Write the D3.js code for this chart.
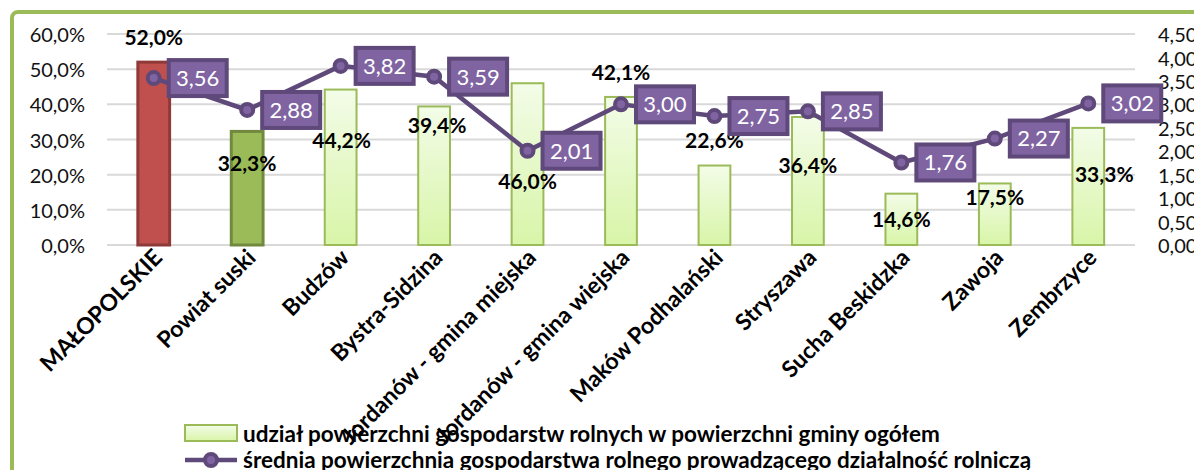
<!DOCTYPE html>
<html>
<head>
<meta charset="utf-8">
<script src="https://cdn.jsdelivr.net/npm/d3@7"></script>
<style>
  body { margin: 0; background: #fff; }
  text { font-family: Lato, "Liberation Sans", sans-serif; }
</style>
</head>
<body>
<div id="chart"></div>
<script>
var width = 1194, height = 470;

// data
var categories = ["MAŁOPOLSKIE", "Powiat suski", "Budzów", "Bystra-Sidzina",
  "Jordanów - gmina miejska", "Jordanów  - gmina wiejska", "Maków Podhalański",
  "Stryszawa", "Sucha Beskidzka", "Zawoja", "Zembrzyce"];
var share = [52.0, 32.3, 44.2, 39.4, 46.0, 42.1, 22.6, 36.4, 14.6, 17.5, 33.3];
var avgArea = [3.56, 2.88, 3.82, 3.59, 2.01, 3.00, 2.75, 2.85, 1.76, 2.27, 3.02];
var leftTicks = [0, 10, 20, 30, 40, 50, 60];
var rightTicks = [0, 0.5, 1, 1.5, 2, 2.5, 3, 3.5, 4, 4.5];
var legendLabels = ["udział powierzchni gospodarstw rolnych w powierzchni gminy ogółem",
  "średnia powierzchnia gospodarstwa rolnego prowadzącego działalność rolniczą"];

// where excel left the bar labels (in % units of left axis)
var barLabelLevel = [59.1, 23.3, 29.6, 34.1, 18.2, 49.2, 29.6, 22.5, 7.4, 13.5, 20.2];
var barLabelDx = [0, 0, 1, 3, 0, 0, 0, 0, 0, 0, 16];

var plot = { left: 107, right: 1135, top: 34, bottom: 245 };

var svg = d3.select("#chart")
  .append("svg")
  .attr("width", width)
  .attr("height", height);

var defs = svg.append("defs");
var grad = defs.append("linearGradient")
  .attr("id", "lightGreen")
  .attr("x1", 0).attr("y1", 0).attr("x2", 0).attr("y2", 1);
grad.append("stop").attr("offset", "0%").attr("stop-color", "#f3fce8");
grad.append("stop").attr("offset", "100%").attr("stop-color", "#d8f5a8");

// outer frame
svg.append("rect")
  .attr("x", 12).attr("y", 12)
  .attr("width", 1300).attr("height", 600)
  .attr("rx", 6)
  .attr("fill", "#fff")
  .attr("stroke", "#9bbb59")
  .attr("stroke-width", 4);

var x = d3.scaleBand()
  .domain(categories)
  .range([plot.left, plot.right])
  .paddingInner(0.66)
  .paddingOuter(0.33);

var xc = function(d) { return x(d) + x.bandwidth() / 2; };

var y = d3.scaleLinear().domain([0, 60]).range([plot.bottom, plot.top]);
var y2 = d3.scaleLinear().domain([0, 4.5]).range([plot.bottom, plot.top]);

var comma = function(f) { return function(v) { return d3.format(f)(v).replace(".", ","); }; };

// gridlines
svg.append("g")
  .selectAll("line")
  .data(leftTicks)
  .enter().append("line")
  .attr("x1", plot.left).attr("x2", plot.right)
  .attr("y1", function(d) { return y(d); })
  .attr("y2", function(d) { return y(d); })
  .attr("stroke", "#d9d9d9")
  .attr("stroke-width", 2);

// left axis
var leftAxis = svg.append("g")
  .attr("transform", "translate(" + 85 + ",0)")
  .call(d3.axisLeft(y).tickValues(leftTicks).tickSize(0).tickPadding(0)
    .tickFormat(function(d) { return comma(".1f")(d) + "%"; }));
leftAxis.select(".domain").remove();
leftAxis.selectAll("text")
  .attr("font-size", 20)
  .attr("fill", "#111")
  .attr("dy", "0.38em")
  .style("font-family", "Lato");

// right axis (cut by the picture edge, like the original)
var rightAxis = svg.append("g")
  .attr("transform", "translate(" + 1158 + ",0)")
  .call(d3.axisRight(y2).tickValues(rightTicks).tickSize(0).tickPadding(0)
    .tickFormat(comma(".2f")));
rightAxis.select(".domain").remove();
rightAxis.selectAll("text")
  .attr("font-size", 20)
  .attr("fill", "#111")
  .attr("dy", "0.38em")
  .style("font-family", "Lato");

// bars
var fills = function(i) {
  if (i === 0) return "#c0504d";
  if (i === 1) return "#9bbb59";
  return "url(#lightGreen)";
};
var strokes = function(i) {
  if (i === 0) return "#8e3a38";
  if (i === 1) return "#71893f";
  return "#9bbb59";
};

svg.append("g")
  .selectAll("rect")
  .data(share)
  .enter().append("rect")
  .attr("x", function(d, i) { return x(categories[i]); })
  .attr("y", function(d) { return y(d); })
  .attr("width", x.bandwidth())
  .attr("height", function(d) { return y(0) - y(d); })
  .attr("fill", function(d, i) { return fills(i); })
  .attr("stroke", function(d, i) { return strokes(i); })
  .attr("stroke-width", function(d, i) { return i < 2 ? 3 : 2; });

// bar labels
svg.append("g")
  .selectAll("text")
  .data(share)
  .enter().append("text")
  .attr("x", function(d, i) { return xc(categories[i]) + barLabelDx[i]; })
  .attr("y", function(d, i) { return y(barLabelLevel[i]); })
  .attr("dy", "0.36em")
  .attr("text-anchor", "middle")
  .attr("font-size", 21)
  .attr("font-weight", "bold")
  .attr("fill", "#000")
  .text(function(d) { return comma(".1f")(d) + "%"; });

// line
var line = d3.line()
  .x(function(d, i) { return xc(categories[i]); })
  .y(function(d) { return y2(d); });

svg.append("path")
  .datum(avgArea)
  .attr("d", line)
  .attr("fill", "none")
  .attr("stroke", "#5f497a")
  .attr("stroke-width", 4.5);

svg.append("g")
  .selectAll("circle")
  .data(avgArea)
  .enter().append("circle")
  .attr("cx", function(d, i) { return xc(categories[i]); })
  .attr("cy", function(d) { return y2(d); })
  .attr("r", 6)
  .attr("fill", "#8064a2")
  .attr("stroke", "#5f497a")
  .attr("stroke-width", 4);

// line value boxes
var boxes = svg.append("g")
  .selectAll("g")
  .data(avgArea)
  .enter().append("g")
  .attr("transform", function(d, i) {
    return "translate(" + (xc(categories[i]) + 13) + "," + y2(d) + ")";
  });

boxes.append("rect")
  .attr("x", 2).attr("y", -18)
  .attr("width", 58).attr("height", 36)
  .attr("fill", "#8064a2")
  .attr("stroke", "#5f497a")
  .attr("stroke-width", 4);

boxes.append("text")
  .attr("x", 31)
  .attr("dy", "0.36em")
  .attr("text-anchor", "middle")
  .attr("font-size", 22)
  .attr("fill", "#fff")
  .text(function(d) { return comma(".2f")(d); });

// category labels
svg.append("g")
  .selectAll("text")
  .data(categories)
  .enter().append("text")
  .attr("transform", function(d) {
    return "translate(" + (xc(d) + 10) + "," + 259 + ") rotate(-45)";
  })
  .attr("text-anchor", "end")
  .attr("font-size", 23)
  .attr("font-weight", "bold")
  .attr("fill", "#000")
  .text(function(d) { return d; });

// legend
var legend = svg.append("g");
legend.append("rect")
  .attr("x", 185).attr("y", 425)
  .attr("width", 52).attr("height", 16)
  .attr("fill", "url(#lightGreen)")
  .attr("stroke", "#9bbb59")
  .attr("stroke-width", 2);
legend.append("line")
  .attr("x1", 185).attr("x2", 237)
  .attr("y1", 460).attr("y2", 460)
  .attr("stroke", "#5f497a")
  .attr("stroke-width", 4.5);
legend.append("circle")
  .attr("cx", 211).attr("cy", 460)
  .attr("r", 6)
  .attr("fill", "#8064a2")
  .attr("stroke", "#5f497a")
  .attr("stroke-width", 4);

legend.selectAll("text.lg")
  .data(legendLabels)
  .enter().append("text")
  .attr("class", "lg")
  .attr("x", 243)
  .attr("y", function(d, i) { return 442 + i * 26; })
  .attr("font-size", 22.5)
  .attr("font-weight", "bold")
  .attr("fill", "#000")
  .text(function(d) { return d; });
</script>
</body>
</html>
